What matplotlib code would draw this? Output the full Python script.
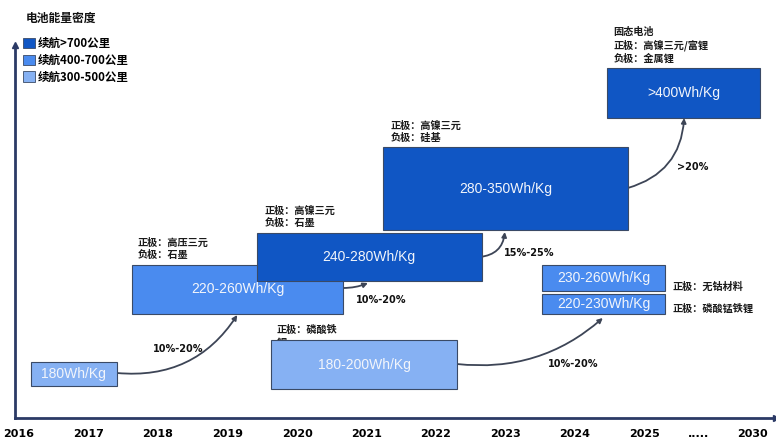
import matplotlib
matplotlib.use("Agg")
import matplotlib.pyplot as plt
from matplotlib.patches import Rectangle, Patch

plt.rcParams['font.family'] = ['Noto Sans CJK SC', 'DejaVu Sans']

# ---------------- data ----------------
tick_pos = [2016, 2017, 2018, 2019, 2020, 2021, 2022, 2023, 2024, 2025, 2025.78, 2026.55]
tick_labels = ['2016', '2017', '2018', '2019', '2020', '2021', '2022', '2023', '2024', '2025', '.....', '2030']

box_labels = ['180Wh/Kg', '220-260Wh/Kg', '240-280Wh/Kg', '280-350Wh/Kg', '>400Wh/Kg',
              '180-200Wh/Kg', '230-260Wh/Kg', '220-230Wh/Kg']
box_x0 = [2016.17, 2017.63, 2019.42, 2021.24, 2024.46, 2019.63, 2023.53, 2023.53]
box_x1 = [2017.41, 2020.66, 2022.66, 2024.76, 2026.66, 2022.30, 2025.30, 2025.30]
box_y0 = [54, 126, 159, 210, 322, 51, 149, 126]
box_y1 = [78, 175, 207, 293, 372, 100, 175, 146]
box_tier = [2, 1, 0, 0, 0, 2, 1, 1]   # 0: >700km, 1: 400-700km, 2: 300-500km

legend_title = '电池能量密度'
tier_labels = ['续航>700公里', '续航400-700公里', '续航300-500公里']
tier_colors = ['#1056c4', '#4a8bef', '#86b1f3']

arrow_x0 = [2017.41, 2020.66, 2022.63, 2024.76, 2022.30]
arrow_y0 = [67, 152, 183, 252, 76]
arrow_x1 = [2019.14, 2021.02, 2022.99, 2025.57, 2024.40]
arrow_y1 = [125, 157, 208, 322, 122]
arrow_rad = [0.3, 0.1, 0.4, 0.35, 0.22]
growth_labels = ['10%-20%', '10%-20%', '15%-25%', '>20%', '10%-20%']
growth_x = [2017.93, 2020.85, 2022.98, 2025.47, 2023.61]
growth_y = [91, 140, 187, 273, 76]

note_texts = ['正极：高压三元\n负极：石墨', '正极：高镍三元\n负极：石墨', '正极：高镍三元\n负极：硅基',
              '固态电池\n正极：高镍三元/富锂\n负极：金属锂', '正极：无钴材料', '正极：磷酸锰铁锂',
              '正极：磷酸铁\n锂']
note_x = [2017.71, 2019.53, 2021.35, 2024.55, 2025.40, 2025.40, 2019.71]
note_y = [191.5, 223, 308.5, 395, 153, 131, 103.5]

# ---------------- figure ----------------
W, H = 776, 440
fig = plt.figure(figsize=(W / 100, H / 100), dpi=100)
ax = fig.add_axes([15 / W, 22 / H, 761 / W, 373 / H])
ax.set_xlim(2015.942, 2026.892)
ax.set_ylim(22, 395)

axis_color = '#2b3a66'
for s in ['top', 'right']:
    ax.spines[s].set_visible(False)
for s in ['left', 'bottom']:
    ax.spines[s].set_color(axis_color)
    ax.spines[s].set_linewidth(2)
ax.plot([0], [1], marker='^', color=axis_color, markersize=5, transform=ax.transAxes, clip_on=False)
ax.plot([1], [0], marker='>', color=axis_color, markersize=5, transform=ax.transAxes, clip_on=False)

ax.set_yticks([])
ax.set_xticks(tick_pos)
ax.set_xticklabels(tick_labels, fontfamily=['Liberation Sans Narrow', 'DejaVu Sans'],
                   fontweight='bold', fontsize=8)
ax.tick_params(axis='x', length=0, pad=8)

# boxes
for lab, x0, x1, y0, y1, t in zip(box_labels, box_x0, box_x1, box_y0, box_y1, box_tier):
    ax.add_patch(Rectangle((x0, y0), x1 - x0, y1 - y0, facecolor=tier_colors[t],
                           edgecolor='#3a4a66', linewidth=0.8, zorder=3))
    ax.text((x0 + x1) / 2, (y0 + y1) / 2, lab, ha='center', va='center', color='#f2f5fb',
            fontsize=10, fontfamily=['Liberation Sans', 'DejaVu Sans'], zorder=4)

# arrows
for x0, y0, x1, y1, r in zip(arrow_x0, arrow_y0, arrow_x1, arrow_y1, arrow_rad):
    ax.annotate('', xy=(x1, y1), xytext=(x0, y0), zorder=2,
                arrowprops=dict(arrowstyle='-|>', connectionstyle=f'arc3,rad={r}',
                                color='#3d4556', lw=1.3, mutation_scale=7,
                                shrinkA=0, shrinkB=0))
for lab, x, y in zip(growth_labels, growth_x, growth_y):
    ax.text(x, y, lab, ha='left', va='center', fontsize=7, fontweight='bold',
            fontfamily=['Liberation Sans Narrow', 'DejaVu Sans'], color='#111111', zorder=5)

# notes
for t, x, y in zip(note_texts, note_x, note_y):
    ax.text(x, y, t, ha='left', va='center', fontsize=7.3, fontweight='bold',
            color='#1a1a1a', linespacing=1.3, zorder=1, clip_on=False)

# legend
fig.text(26 / W, 1 - 18 / H, legend_title, ha='left', va='center', fontsize=8.5,
         fontweight='bold', color='#111111')
handles = [Patch(facecolor=c, edgecolor='#3a4a66', linewidth=0.6) for c in tier_colors]
leg = ax.legend(handles, tier_labels, loc='upper left',
                bbox_to_anchor=(23 / W, 1 - 37 / H), bbox_transform=fig.transFigure,
                frameon=False, handlelength=1.0, handleheight=1.0,
                handletextpad=0.3, labelspacing=0.32, borderaxespad=0, borderpad=0,
                prop=dict(family=['Noto Sans CJK SC', 'DejaVu Sans'], size=8.3, weight='bold'))

fig.savefig('out.png', dpi=100)
